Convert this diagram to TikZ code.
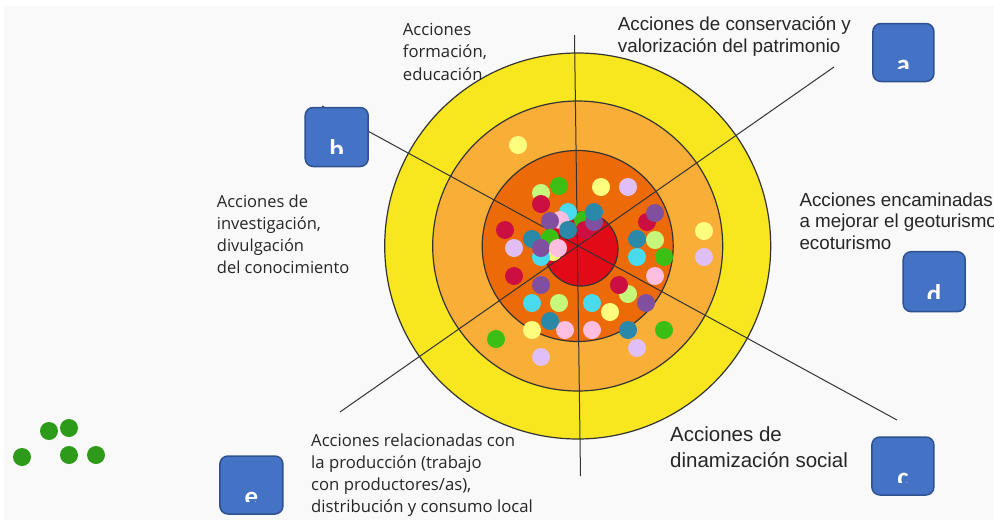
\documentclass[tikz,border=0pt]{standalone}
\usepackage{fontspec}
\setmainfont{Liberation Sans}
\newfontfamily\humanist{Open Sans}
\newfontfamily\letterfont{Carlito}

\definecolor{bggray}{HTML}{F9F9F9}
\definecolor{ringyellow}{HTML}{F8E71E}
\definecolor{ringlight}{HTML}{F8AE37}
\definecolor{ringdark}{HTML}{EC6B08}
\definecolor{corered}{HTML}{E20A17}
\definecolor{boxblue}{HTML}{4472C4}
\definecolor{boxedge}{HTML}{2F528F}
\definecolor{dpaleyellow}{HTML}{FDFD7E}
\definecolor{dlavender}{HTML}{E0BEF6}
\definecolor{dgreen}{HTML}{3CBF14}
\definecolor{dlime}{HTML}{C6F97B}
\definecolor{dcrimson}{HTML}{CC0F42}
\definecolor{dcyan}{HTML}{4ADAEE}
\definecolor{dpink}{HTML}{FDBEDF}
\definecolor{dpurple}{HTML}{804FA0}
\definecolor{dteal}{HTML}{2A88A8}
\definecolor{dforest}{HTML}{2E9A1A}

\tikzset{
    ring/.style={draw=black!80, line width=1.2pt},
    ray/.style={draw=black!80, line width=1pt},
    dot/.style={circle, inner sep=0pt, minimum size=18pt, fill=#1},
    letterbox/.style={draw=boxedge, line width=1.5pt, fill=boxblue,
        rounded corners=8pt, inner sep=0pt},
    boxletter/.style={text=white, inner sep=0pt, anchor=base,
        font=\letterfont\bfseries\fontsize{27}{27}\selectfont},
    sanslabel/.style={align=left, anchor=north west, inner sep=0pt, text=black!85},
}

% letter that runs out of the bottom of its box
\newcommand\cutletter[2]{%
    \begin{scope}
        \clip ([yshift=13.5pt]#1.south west) rectangle (#1.north east);
        \node[boxletter] (#1txt) at ([yshift=9pt]#1.south) {#2};
    \end{scope}}

\begin{document}
\begin{tikzpicture}[x=1pt, y=-1pt]
    \useasboundingbox (0,0) rectangle (994,520);
    \clip (0,0) rectangle (994,520);
    \fill[white] (0,0) rectangle (994,520);
    \fill[bggray] (4,6) rectangle (994,520);

    % rings
    \coordinate (hub) at (577.7,246);
    \draw[ring, fill=ringyellow] (hub) circle (193pt);
    \draw[ring, fill=ringlight] (hub) circle (145pt);
    \draw[ring, fill=ringdark] (hub) circle (95.5pt);
    \draw[ring, fill=corered] (581,249) circle (37pt);

    % rays
    \coordinate (rayN) at (574.5,35);
    \coordinate (rayS) at (580.5,476);
    \coordinate (rayNE) at (834,67);
    \coordinate (raySW) at (340,412);
    \coordinate (rayNW) at (322,106);
    \coordinate (raySE) at (897,420);
    \draw[ray] (rayN) -- (rayS);
    \draw[ray] (rayNE) -- (raySW);
    \draw[ray] (rayNW) -- (raySE);

    % dots
    \foreach \px/\py/\pc [count=\i] in {
        518/145/dpaleyellow, 704/231/dpaleyellow, 704/257/dlavender,
        496/339/dgreen, 541/357/dlavender, 637/348/dlavender, 664/330/dgreen,
        559/186/dgreen, 541/193/dlime, 541/204/dcrimson,
        601/187/dpaleyellow, 628/187/dlavender,
        505/230/dcrimson, 514/248/dlavender, 514/276/dcrimson,
        647/222/dcrimson, 655/213/dpurple, 637/239/dteal, 655/240/dlime,
        637/257/dcyan, 664/257/dgreen, 655/276/dpink,
        628/294/dlime, 619/285/dcrimson, 646/303/dpurple,
        541/285/dpurple, 532/303/dcyan, 559/303/dlime, 592/303/dcyan,
        610/312/dpaleyellow, 532/330/dpaleyellow, 565/330/dpink,
        550/321/dteal, 592/330/dpink, 628/330/dteal,
        583/220/dgreen, 585/230/dcrimson, 594/222/dpurple, 594/212/dteal,
        568/212/dcyan, 560/220/dpink, 550/221/dpurple, 568/230/dteal,
        553/252/dpaleyellow, 541/257/dcyan, 550/238/dgreen,
        532/239/dteal, 541/248/dpurple, 558/248/dpink}
        \node[dot=\pc] (dot\i) at (\px,\py) {};

    \foreach \px/\py [count=\i] in {49/431, 69/428, 22/457, 69/455, 96/455}
        \node[dot=dforest] (loose\i) at (\px,\py) {};

    % boxes
    \node[letterbox, minimum width=61pt, minimum height=58pt] (boxa) at (903.4,52.5) {};
    \node[letterbox, minimum width=63pt, minimum height=59pt] (boxb) at (336.7,137) {};
    \node[letterbox, minimum width=62pt, minimum height=58pt] (boxc) at (902.9,466) {};
    \node[letterbox, minimum width=62pt, minimum height=60pt] (boxd) at (934.2,281.7) {};
    \node[letterbox, minimum width=63pt, minimum height=58pt] (boxe) at (251.4,485) {};
    \cutletter{boxa}{a}
    \cutletter{boxb}{b}
    \cutletter{boxc}{c}
    \cutletter{boxd}{d}
    \cutletter{boxe}{e}

    % labels
    \node[sanslabel, font=\humanist\fontsize{16.7}{22.5}\selectfont] (educa) at (402.7,22.8)
        {Acciones\\formación,\\educación};
    \node[sanslabel, font=\fontsize{18.8}{21.5}\selectfont] (patri) at (617.7,16.8)
        {Acciones de conservación y\\valorización del patrimonio};
    \node[sanslabel, font=\humanist\fontsize{16.5}{22}\selectfont] (inves) at (216.7,194.7)
        {Acciones de\\investigación,\\divulgación\\del conocimiento};
    \node[sanslabel, font=\fontsize{18.8}{21.5}\selectfont] (geotur) at (799.3,192.5)
        {Acciones encaminadas\\a mejorar el geoturismo\\ecoturismo};
    \node[sanslabel, font=\humanist\fontsize{16.7}{22}\selectfont] (produ) at (311,433.8)
        {Acciones relacionadas con\\la producción (trabajo\\con productores/as),\\distribución y consumo local};
    \node[sanslabel, font=\fontsize{20.5}{26}\selectfont] (social) at (670,426)
        {Acciones de\\dinamización social};
\end{tikzpicture}
\end{document}
